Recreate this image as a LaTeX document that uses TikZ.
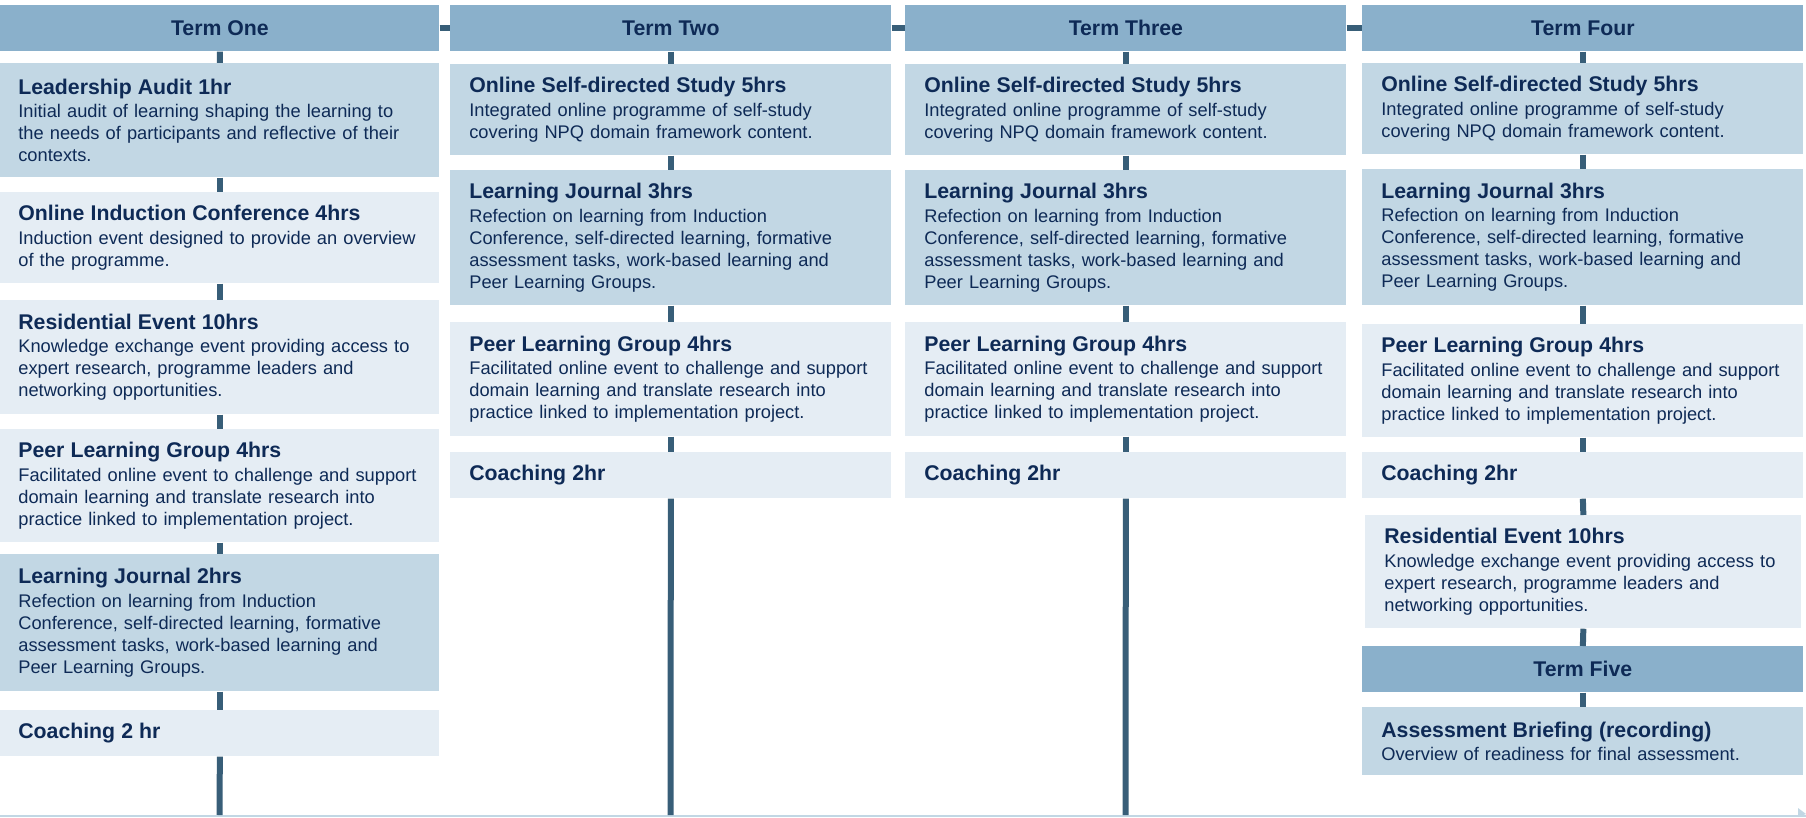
\documentclass[tikz,border=0pt]{standalone}
\usepackage{fontspec}
\setmainfont{Liberation Sans}
\usepackage{xcolor}

\definecolor{headblue}{RGB}{138,176,203}
\definecolor{midblue}{RGB}{194,215,228}
\definecolor{paleblue}{RGB}{229,237,244}
\definecolor{linkblue}{RGB}{56,94,120}
\definecolor{ink}{RGB}{14,42,86}

\newcommand{\bodyfont}{\fontsize{10.4}{12.5}\selectfont}
\newcommand{\titlefont}{\fontsize{12.1}{14}\selectfont\bfseries}
\newcommand{\acttitle}[1]{{\titlefont #1}\\[0.9pt]}

\tikzset{
    term/.style={rectangle, anchor=north west, fill=headblue, text=ink, font=\titlefont,
        inner sep=0pt, minimum width=8.82cm, minimum height=0.92cm},
    activity/.style={rectangle, anchor=north west, text=ink, font=\bodyfont, align=left,
        inner ysep=0pt, inner xsep=0.38cm, text width=8.06cm},
    deep/.style={activity, fill=midblue},
    pale/.style={activity, fill=paleblue},
    first/.style={inner xsep=0.36cm, text width=8.06cm},
    link/.style={draw=linkblue, line width=1.2mm},
}

\begin{document}
\begin{tikzpicture}
    \useasboundingbox (0,0) rectangle (36.12,-16.34);
    \fill[midblue] (0,-16.29) rectangle (36.12,-16.34);
    \fill[midblue] (35.96,-16.16) -- (36.12,-16.28) -- (35.96,-16.34) -- cycle;

    % term one
    \node[term, minimum width=8.78cm] at (0,-0.10) (h1) {Term One};
    \node[deep, first, minimum height=2.28cm] at (0,-1.26) (c1a) {\acttitle{Leadership Audit 1hr}
        Initial audit of learning shaping the learning to\\ the needs of participants and reflective of their\\ contexts.};
    \node[pale, first, minimum height=1.82cm] at (0,-3.84) (c1b) {\acttitle{Online Induction Conference 4hrs}
        Induction event designed to provide an overview\\ of the programme.};
    \node[pale, first, minimum height=2.28cm] at (0,-6.00) (c1c) {\acttitle{Residential Event 10hrs}
        Knowledge exchange event providing access to\\ expert research, programme leaders and\\ networking opportunities.};
    \node[pale, first, minimum height=2.26cm] at (0,-8.58) (c1d) {\acttitle{Peer Learning Group 4hrs}
        Facilitated online event to challenge and support\\ domain learning and translate research into\\ practice linked to implementation project.};
    \node[deep, first, minimum height=2.74cm] at (0,-11.08) (c1e) {\acttitle{Learning Journal 2hrs}
        Refection on learning from Induction\\ Conference, self-directed learning, formative\\ assessment tasks, work-based learning and\\ Peer Learning Groups.};
    \node[pale, first, minimum height=0.92cm] at (0,-14.20) (c1f) {{\titlefont Coaching 2 hr}};
    \coordinate (end1) at (4.39,-16.30);

    % term two
    \node[term] at (9.00,-0.10) (h2) {Term Two};
    \node[deep, minimum height=1.82cm] at (9.00,-1.28) (c2a) {\acttitle{Online Self-directed Study 5hrs}
        Integrated online programme of self-study\\ covering NPQ domain framework content.};
    \node[deep, minimum height=2.70cm] at (9.00,-3.40) (c2b) {\acttitle{Learning Journal 3hrs}
        Refection on learning from Induction\\ Conference, self-directed learning, formative\\ assessment tasks, work-based learning and\\ Peer Learning Groups.};
    \node[pale, minimum height=2.28cm] at (9.00,-6.44) (c2c) {\acttitle{Peer Learning Group 4hrs}
        Facilitated online event to challenge and support\\ domain learning and translate research into\\ practice linked to implementation project.};
    \node[pale, minimum height=0.92cm] at (9.00,-9.04) (c2d) {{\titlefont Coaching 2hr}};
    \coordinate (end2) at (13.41,-16.30);

    % term three
    \node[term] at (18.10,-0.10) (h3) {Term Three};
    \node[deep, minimum height=1.82cm] at (18.10,-1.28) (c3a) {\acttitle{Online Self-directed Study 5hrs}
        Integrated online programme of self-study\\ covering NPQ domain framework content.};
    \node[deep, minimum height=2.70cm] at (18.10,-3.40) (c3b) {\acttitle{Learning Journal 3hrs}
        Refection on learning from Induction\\ Conference, self-directed learning, formative\\ assessment tasks, work-based learning and\\ Peer Learning Groups.};
    \node[pale, minimum height=2.28cm] at (18.10,-6.44) (c3c) {\acttitle{Peer Learning Group 4hrs}
        Facilitated online event to challenge and support\\ domain learning and translate research into\\ practice linked to implementation project.};
    \node[pale, minimum height=0.92cm] at (18.10,-9.04) (c3d) {{\titlefont Coaching 2hr}};
    \coordinate (end3) at (22.51,-16.30);

    % term four and five
    \node[term] at (27.24,-0.10) (h4) {Term Four};
    \node[deep, minimum height=1.82cm] at (27.24,-1.26) (c4a) {\acttitle{Online Self-directed Study 5hrs}
        Integrated online programme of self-study\\ covering NPQ domain framework content.};
    \node[deep, minimum height=2.72cm] at (27.24,-3.38) (c4b) {\acttitle{Learning Journal 3hrs}
        Refection on learning from Induction\\ Conference, self-directed learning, formative\\ assessment tasks, work-based learning and\\ Peer Learning Groups.};
    \node[pale, minimum height=2.26cm] at (27.24,-6.48) (c4c) {\acttitle{Peer Learning Group 4hrs}
        Facilitated online event to challenge and support\\ domain learning and translate research into\\ practice linked to implementation project.};
    \node[pale, minimum height=0.92cm] at (27.24,-9.04) (c4d) {{\titlefont Coaching 2hr}};
    \node[pale, text width=7.96cm, minimum height=2.26cm] at (27.30,-10.30) (c4e) {\acttitle{Residential Event 10hrs}
        Knowledge exchange event providing access to\\ expert research, programme leaders and\\ networking opportunities.};
    \node[term] at (27.24,-12.92) (h5) {Term Five};
    \node[deep, minimum height=1.36cm] at (27.24,-14.14) (c4f) {\acttitle{Assessment Briefing (recording)}
        Overview of readiness for final assessment.};

    \draw[link] (h1.east) -- (h2.west);
    \draw[link] (h2.east) -- (h3.west);
    \draw[link] (h3.east) -- (h4.west);

    \draw[link] (h1.south) -- (c1a.north);
    \draw[link] (c1a.south) -- (c1b.north);
    \draw[link] (c1b.south) -- (c1c.north);
    \draw[link] (c1c.south) -- (c1d.north);
    \draw[link] (c1d.south) -- (c1e.north);
    \draw[link] (c1e.south) -- (c1f.north);
    \draw[link] (c1f.south) -- (end1);

    \draw[link] (h2.south) -- (c2a.north);
    \draw[link] (c2a.south) -- (c2b.north);
    \draw[link] (c2b.south) -- (c2c.north);
    \draw[link] (c2c.south) -- (c2d.north);
    \draw[link] (c2d.south) -- (end2);

    \draw[link] (h3.south) -- (c3a.north);
    \draw[link] (c3a.south) -- (c3b.north);
    \draw[link] (c3b.south) -- (c3c.north);
    \draw[link] (c3c.south) -- (c3d.north);
    \draw[link] (c3d.south) -- (end3);

    \draw[link] (h4.south) -- (c4a.north);
    \draw[link] (c4a.south) -- (c4b.north);
    \draw[link] (c4b.south) -- (c4c.north);
    \draw[link] (c4c.south) -- (c4d.north);
    \draw[link] (c4d.south) -- (c4e.north);
    \draw[link] (c4e.south) -- (h5.north);
    \draw[link] (h5.south) -- (c4f.north);
\end{tikzpicture}
\end{document}
